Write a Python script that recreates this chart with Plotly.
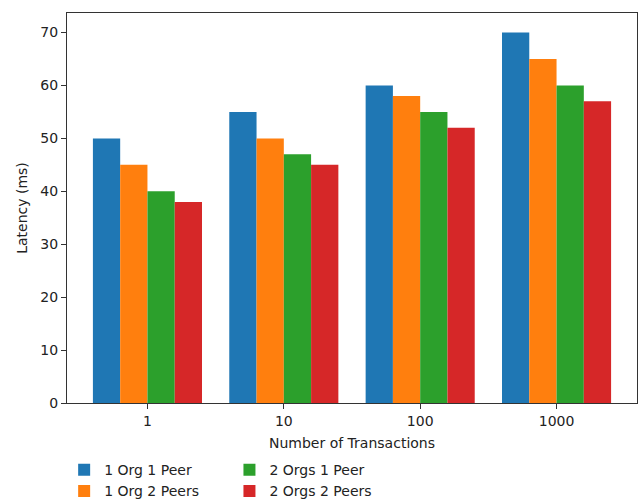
import plotly.graph_objects as go

# Latency per transaction batch size for each network topology
transactions = ["1", "10", "100", "1000"]
series_names = ["1 Org 1 Peer", "1 Org 2 Peers", "2 Orgs 1 Peer", "2 Orgs 2 Peers"]
org1_peer1 = [50, 55, 60, 70]
org1_peer2 = [45, 50, 58, 65]
org2_peer1 = [40, 47, 55, 60]
org2_peer2 = [38, 45, 52, 57]
series_values = [org1_peer1, org1_peer2, org2_peer1, org2_peer2]
colors = ["#1f77b4", "#ff7f0e", "#2ca02c", "#d62728"]
legend_slots = ["legend", "legend", "legend2", "legend2"]

FONT = "DejaVu Sans"
TEXT = "#222222"
FS = 14

fig = go.Figure()
for name, vals, col, lg in zip(series_names, series_values, colors, legend_slots):
    fig.add_trace(go.Bar(
        x=transactions, y=vals, name=name,
        marker=dict(color=col, line=dict(width=0)),
        legend=lg,
    ))

axis_common = dict(
    showline=True, linecolor="#333333", linewidth=1, mirror=True,
    ticks="outside", ticklen=5, tickwidth=1, tickcolor="#333333",
    showgrid=False, zeroline=False,
    tickfont=dict(family=FONT, size=FS, color=TEXT),
)

legend_common = dict(
    yanchor="top", xanchor="left", orientation="v",
    bgcolor="rgba(0,0,0,0)",
    font=dict(family=FONT, size=FS, color=TEXT),
    tracegroupgap=0, itemwidth=30,
)

fig.update_layout(
    width=640, height=499,
    margin=dict(l=67, r=3, t=13, b=96, autoexpand=False),
    paper_bgcolor="white", plot_bgcolor="white",
    barmode="group", bargap=0.2, bargroupgap=0,
    font=dict(family=FONT, size=FS, color=TEXT),
    xaxis=dict(
        type="category", range=[-0.59, 3.59],
        title=dict(text="Number of Transactions", font=dict(family=FONT, size=FS, color=TEXT), standoff=10),
        **axis_common,
    ),
    yaxis=dict(
        range=[0, 73.7], tickvals=[0, 10, 20, 30, 40, 50, 60, 70],
        title=dict(text="Latency (ms)", font=dict(family=FONT, size=FS, color=TEXT), standoff=9),
        **axis_common,
    ),
    legend=dict(x=-0.005, y=-0.131, **legend_common),
    legend2=dict(x=0.285, y=-0.131, **legend_common),
)

fig.write_html("out.html")
